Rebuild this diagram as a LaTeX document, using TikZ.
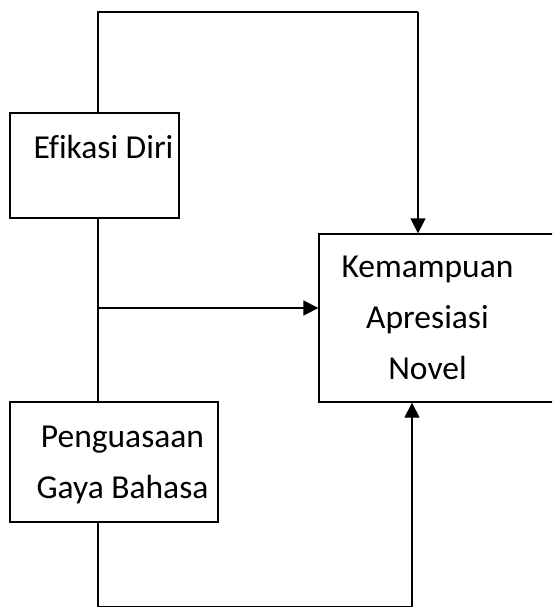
\documentclass[tikz,border=0pt]{standalone}
\usepackage{fontspec}
\setmainfont{Carlito}[Ligatures=NoCommon]
\usetikzlibrary{arrows.meta, positioning}
\tikzset{%
    var box/.style={%
        draw,
        line width=1.3pt,
        rectangle,
        inner sep=0pt
    },%
    var text/.style={%
        font=\fontsize{33.5}{51}\selectfont,
        align=center,
        inner sep=0pt
    },%
    link/.style={%
        line width=1.3pt
    },%
    arrow link/.style={%
        link,
        -{Triangle[width=15pt,length=15pt]}
    }%
}

\begin{document}
\begin{tikzpicture}[x=1pt, y=-1pt]
\useasboundingbox (0,0) rectangle (552,608);
\clip (0,0) rectangle (552,608);

% variable boxes
\node[var box, minimum width=169pt, minimum height=105pt] (ed) at (94.5,165.5) {};
\node[var box, minimum width=281pt, minimum height=168pt] (kan) at (459.5,318) {};
\node[var box, minimum width=208pt, minimum height=120pt] (pgb) at (114,462) {};

% box labels
\node[var text, anchor=base] (ed-t) at (103.5,158) {Ef\kern0pt ikasi Diri};
\node[var text, anchor=north] (kan-t) at (427.5,256) {Kemampuan\\Apresiasi\\Novel};
\node[var text, anchor=north] (pgb-t) at (122.5,426) {Penguasaan\\Gaya Bahasa};

% routing points
\coordinate (spine) at (98,308);
\coordinate (top r) at (418,12);
\coordinate (bot r) at (412,606.5);

\draw[link] (ed.north -| spine) |- (top r);
\draw[arrow link] (top r) -- (kan.north -| top r);
\draw[link] (ed.south -| spine) -- (pgb.north -| spine);
\draw[arrow link] (spine) -- (kan.west |- spine);
\draw[link] (pgb.south -| spine) |- (bot r);
\draw[arrow link] (bot r) -- (kan.south -| bot r);
\end{tikzpicture}
\end{document}
